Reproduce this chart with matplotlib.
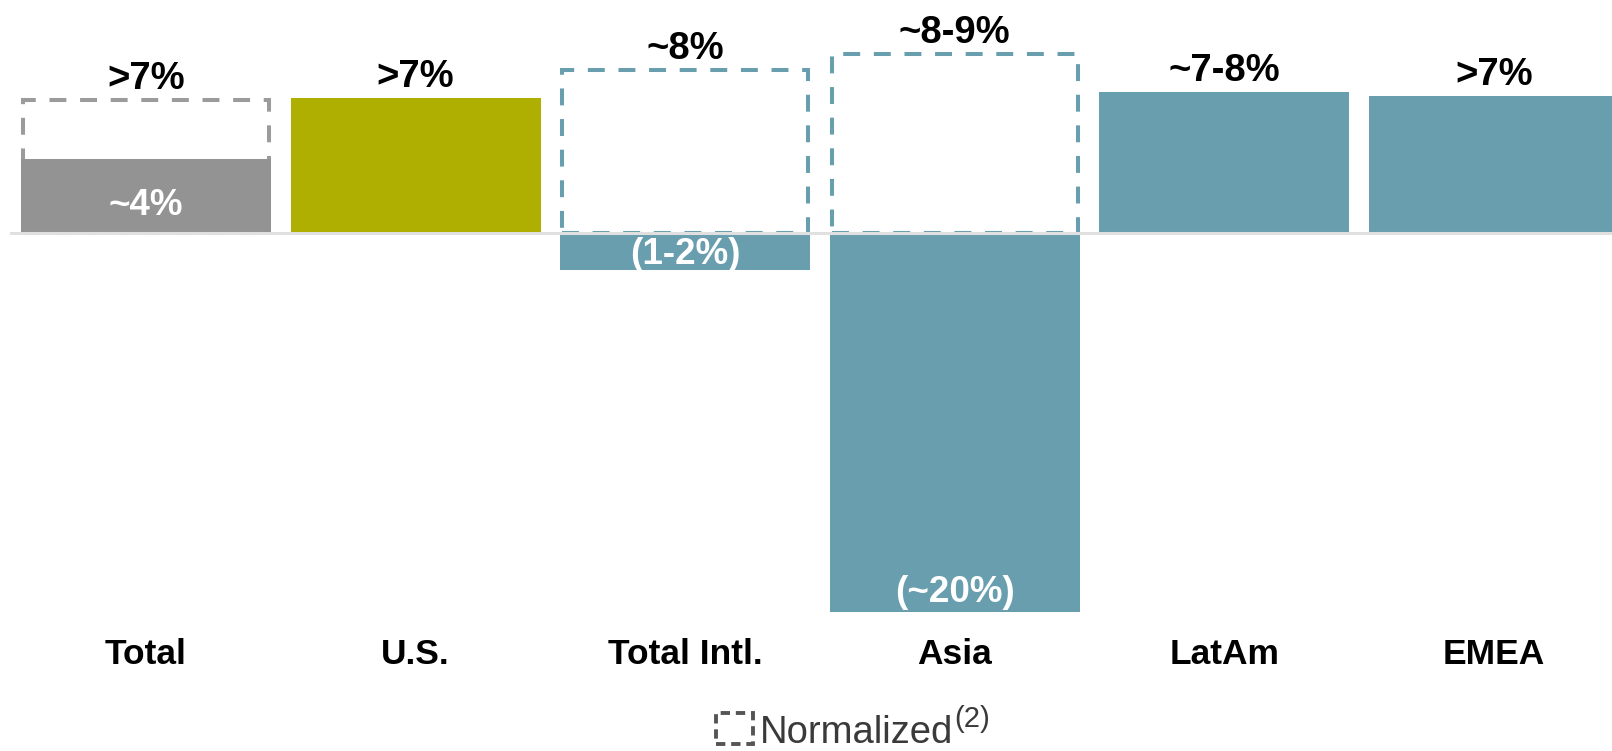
import matplotlib
matplotlib.use("Agg")
import matplotlib.pyplot as plt
from matplotlib.patches import Rectangle
from matplotlib.transforms import blended_transform_factory

plt.rcParams['font.family'] = ['Liberation Sans', 'DejaVu Sans']

# Growth by region: reported vs. normalized (percent)
categories = ["Total", "U.S.", "Total Intl.", "Asia", "LatAm", "EMEA"]
reported = [3.9, 7.1, -1.95, -20.0, 7.45, 7.25]
normalized = [7.0, None, 8.6, 9.45, None, None]
top_labels = [">7%", ">7%", "~8%", "~8-9%", "~7-8%", ">7%"]
inner_labels = ["~4%", None, "(1-2%)", "(~20%)", None, None]
legend_text = "Normalized"
legend_note = "(2)"

GRAY = "#939393"
GRAY_DASH = "#9b9b9b"
OLIVE = "#aeaf00"
TEAL = "#699eaf"
BASE = "#e0e0e0"
bar_colors = [GRAY, OLIVE, TEAL, TEAL, TEAL, TEAL]
dash_colors = [GRAY_DASH, None, TEAL, TEAL, None, None]

W, H, DPI = 1612, 751, 100
fig = plt.figure(figsize=(W / DPI, H / DPI), dpi=DPI)
ax = fig.add_axes([0, 0, 1, 1])

# layout in pixels: category pitch, first centre, baseline, pixels per percent
pitch, x0, base_px, ppp = 269.6, 146.0, 233.0, 18.95
ax.set_xlim(-x0 / pitch, (W - x0) / pitch)
ax.set_ylim((base_px - H) / ppp, base_px / ppp)
ax.axis("off")

bar_w = 250 / pitch
xs = list(range(len(categories)))

# normalized outlines (dashed) behind the reported bars
dash_ls = (0, (4.2, 3.4))
for i, (nv, dc) in enumerate(zip(normalized, dash_colors)):
    if nv is None:
        continue
    inset = 2.2 / pitch
    ax.add_patch(Rectangle((i - bar_w / 2 + inset, 0), bar_w - 2 * inset, nv,
                           facecolor="white", edgecolor=dc, linewidth=2.9,
                           linestyle=dash_ls, zorder=1))

ax.bar(xs, reported, width=bar_w, color=bar_colors, zorder=2)

# zero line
ax.axhline(0, xmin=11 / W, xmax=1, color=BASE, linewidth=2.2, zorder=3)

# value labels above each column
for i, (lab, rv, nv) in enumerate(zip(top_labels, reported, normalized)):
    top = max(rv, nv if nv is not None else rv, 0)
    ax.annotate(lab, (i, top), xytext=(0, 8), textcoords="offset points",
                ha="center", va="baseline", fontsize=27.5, fontweight="bold",
                color="black", zorder=4)

# labels inside the reported bars
for i, (lab, rv) in enumerate(zip(inner_labels, reported)):
    if lab is None:
        continue
    if rv > 0:
        xy, dy, va = (i, 0), 13, "baseline"
    elif rv > -5:
        xy, dy, va = (i, rv / 2), -2, "center"
    else:
        xy, dy, va = (i, rv), 7, "baseline"
    ax.annotate(lab, xy, xytext=(0, dy), textcoords="offset points",
                ha="center", va=va, fontsize=26.5, fontweight="bold",
                color="white", zorder=4)

# category names
trans = blended_transform_factory(ax.transData, ax.transAxes)
for i, c in enumerate(categories):
    ax.text(i, 1 - 654 / H, c, transform=trans, ha="center", va="center",
            fontsize=25.5, fontweight="bold", color="black")

# legend: dashed swatch + text
sw_x, sw_y, sw_w, sw_h = 716 / W, 1 - 744 / H, 37 / W, 31 / H
fig.patches.append(Rectangle((sw_x, sw_y), sw_w, sw_h, transform=fig.transFigure,
                             facecolor="none", edgecolor="#555555", linewidth=2.8,
                             linestyle=(0, (2.4, 1.5)), figure=fig))
t = fig.text(760 / W, 1 - 743 / H, legend_text, ha="left", va="baseline",
             fontsize=27.5, color="#3a3a3a")
fig.canvas.draw()
bb = t.get_window_extent()
fig.text((bb.x1 + 1) / W, 1 - 727 / H, legend_note, ha="left", va="baseline",
         fontsize=21, color="#3a3a3a")

fig.savefig("out.png", dpi=DPI)
